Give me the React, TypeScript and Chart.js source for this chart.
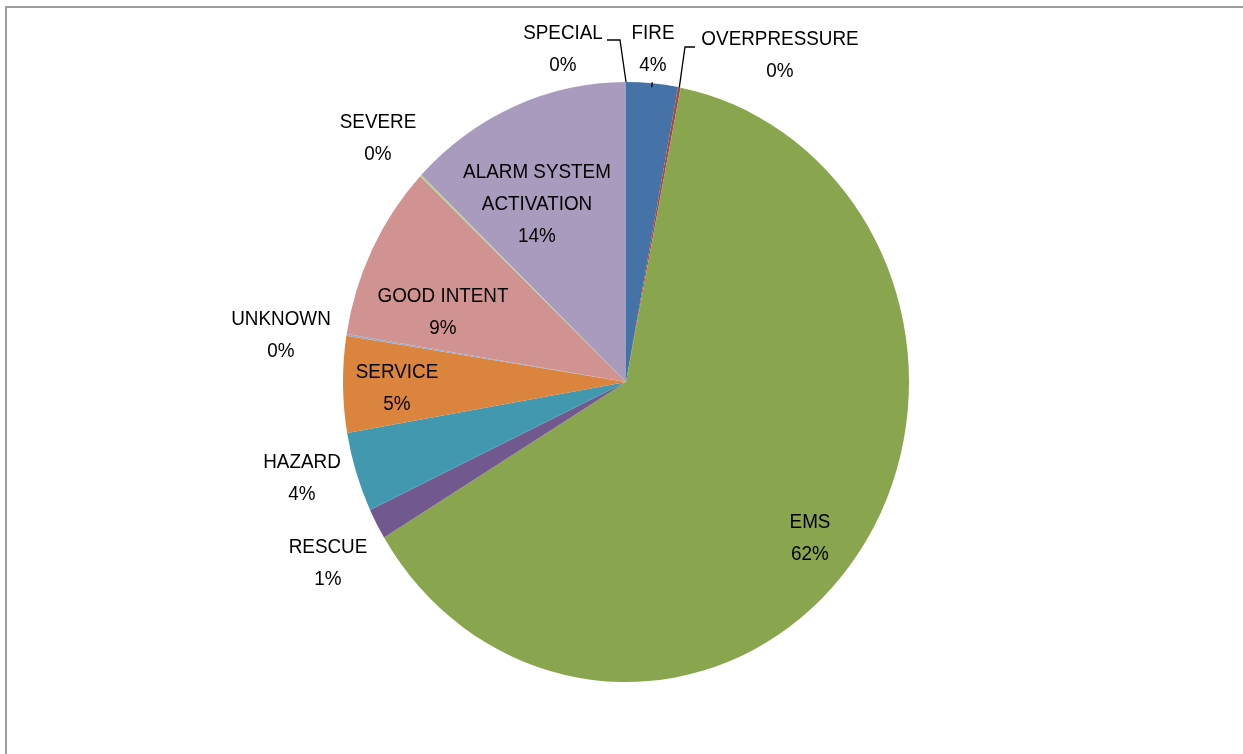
import React, { useEffect, useRef } from "react";
import { Chart, registerables } from "chart.js";

Chart.register(...registerables);

// ---- data ----
const categories = [
  "FIRE",
  "OVERPRESSURE",
  "EMS",
  "RESCUE",
  "HAZARD",
  "SERVICE",
  "UNKNOWN",
  "GOOD INTENT",
  "SEVERE",
  "ALARM SYSTEM ACTIVATION",
  "SPECIAL",
];
const shares = [2.95, 0.15, 63.4, 1.67, 4.3, 5.2, 0.1, 9.5, 0.1, 12.9, 0];
const percentLabels = ["4%", "0%", "62%", "1%", "4%", "5%", "0%", "9%", "0%", "14%", "0%"];
const labelLines = [
  ["FIRE"],
  ["OVERPRESSURE"],
  ["EMS"],
  ["RESCUE"],
  ["HAZARD"],
  ["SERVICE"],
  ["UNKNOWN"],
  ["GOOD INTENT"],
  ["SEVERE"],
  ["ALARM SYSTEM", "ACTIVATION"],
  ["SPECIAL"],
];
const sliceColors = [
  "#4572A7",
  "#AA4643",
  "#89A54E",
  "#71588F",
  "#4198AF",
  "#DB843D",
  "#93A9CF",
  "#D19392",
  "#B9CD96",
  "#A99BBD",
  "#92C3D5",
];

// ---- layout (label placement relative to pie centre, in screen px) ----
const labelOffsets: [number, number][] = [
  [27, -349],
  [154, -343],
  [184, 140],
  [-298, 165],
  [-324, 80],
  [-229, -10],
  [-345, -63],
  [-183, -86],
  [-248, -260],
  [-89, -210],
  [-63, -349],
];
const leaders: { index: number; via: [number, number][]; inset?: number; outset?: number }[] = [
  { index: 10, via: [[-19, -342], [-6, -342]] },
  { index: 0, via: [], inset: 4, outset: 1 },
  { index: 1, via: [[69, -335], [59, -335]] },
];

const W = 1243;
const H = 754;
const SX = 283 / 300; // horizontal squeeze of the picture
const FONT = '20px "Liberation Sans", Arial, sans-serif';
const LINE_H = 32;

export default function App() {
  const ref = useRef<HTMLCanvasElement | null>(null);

  useEffect(() => {
    if (!ref.current) return;

    const squeeze = {
      id: "squeeze",
      beforeDraw(chart: any) {
        const ctx = chart.ctx;
        ctx.save();
        ctx.fillStyle = "#ffffff";
        ctx.fillRect(0, 0, W, H);
        ctx.strokeStyle = "#9c9c9c";
        ctx.lineWidth = 2;
        ctx.beginPath();
        ctx.moveTo(6, H + 10);
        ctx.lineTo(6, 7);
        ctx.lineTo(W + 10, 7);
        ctx.stroke();
        ctx.restore();
      },
      beforeDatasetsDraw(chart: any) {
        const meta = chart.getDatasetMeta(0);
        const cx = meta.data[0].x;
        const ctx = chart.ctx;
        ctx.save();
        ctx.translate(cx, 0);
        ctx.scale(SX, 1);
        ctx.translate(-cx, 0);
      },
      afterDatasetsDraw(chart: any) {
        chart.ctx.restore();
      },
      afterDraw(chart: any) {
        const ctx = chart.ctx;
        const meta = chart.getDatasetMeta(0);
        const arc0 = meta.data[0];
        const cx = arc0.x;
        const cy = arc0.y;
        const R = arc0.outerRadius;

        const edge = (i: number, extra = 0): [number, number] => {
          const a = meta.data[i];
          const mid = (a.startAngle + a.endAngle) / 2;
          return [cx + (R + extra) * Math.cos(mid) * SX, cy + (R + extra) * Math.sin(mid)];
        };

        // leader lines
        ctx.save();
        ctx.strokeStyle = "#000000";
        ctx.lineWidth = 1.3;
        leaders.forEach((l) => {
          ctx.beginPath();
          if (l.via.length) {
            ctx.moveTo(cx + l.via[0][0], cy + l.via[0][1]);
            for (let j = 1; j < l.via.length; j++) ctx.lineTo(cx + l.via[j][0], cy + l.via[j][1]);
            const e = edge(l.index);
            ctx.lineTo(e[0], e[1]);
          } else {
            const a = edge(l.index, l.outset || 0);
            const b = edge(l.index, -(l.inset || 0));
            ctx.moveTo(a[0], a[1]);
            ctx.lineTo(b[0], b[1]);
          }
          ctx.stroke();
        });
        ctx.restore();

        // labels
        ctx.save();
        ctx.font = FONT;
        ctx.fillStyle = "#000000";
        ctx.textAlign = "center";
        ctx.textBaseline = "middle";
        categories.forEach((_, i) => {
          const lines = [...labelLines[i], percentLabels[i]];
          const [ox, oy] = labelOffsets[i];
          lines.forEach((t, j) => {
            ctx.save();
            ctx.translate(cx + ox, cy + oy + j * LINE_H);
            ctx.scale(SX, 1);
            ctx.fillText(t, 0, 0);
            ctx.restore();
          });
        });
        ctx.restore();
      },
    };

    const chart = new Chart(ref.current, {
      type: "pie",
      data: {
        labels: categories,
        datasets: [
          {
            data: shares,
            backgroundColor: sliceColors,
            borderWidth: 0,
            clip: false,
          } as any,
        ],
      },
      options: {
        responsive: false,
        animation: false,
        devicePixelRatio: 1,
        layout: { padding: { top: 82, bottom: 72, left: 9, right: 0 } },
        plugins: {
          legend: { display: false },
          tooltip: { enabled: false },
        },
      },
      plugins: [squeeze],
    });

    return () => chart.destroy();
  }, []);

  return (
    <div style={{ position: "absolute", left: 0, top: 0, width: W, height: H, background: "#fff" }}>
      <canvas ref={ref} width={W} height={H} style={{ display: "block", width: W, height: H }} />
    </div>
  );
}
